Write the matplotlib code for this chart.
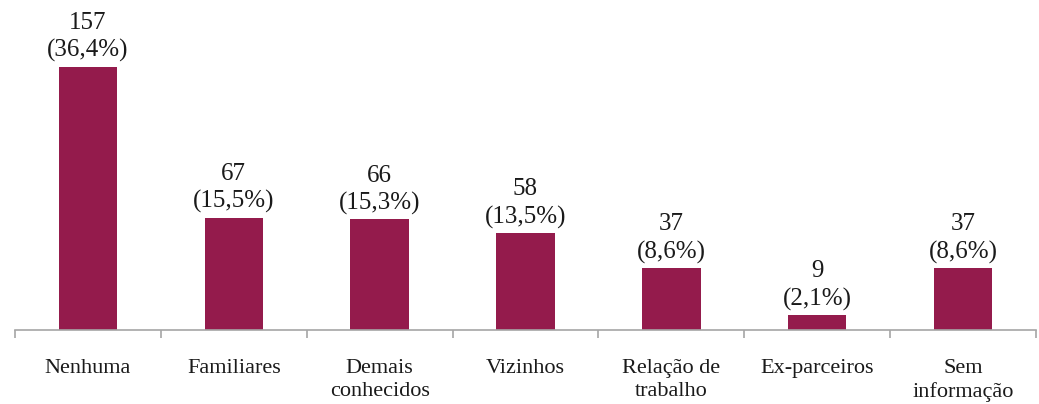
import matplotlib.pyplot as plt
import numpy as np

categorias = ['Nenhuma', 'Familiares', 'Demais\nconhecidos', 'Vizinhos',
              'Relação de\ntrabalho', 'Ex-parceiros', 'Sem\ninformação']
valores = [157, 67, 66, 58, 37, 9, 37]
percentuais = ['36,4%', '15,5%', '15,3%', '13,5%', '8,6%', '2,1%', '8,6%']

plt.rcParams['font.family'] = ['Liberation Serif', 'DejaVu Serif']

fig = plt.figure(figsize=(10.39, 4.04), dpi=100)
ax = fig.add_axes([15 / 1039, 74 / 404, 1021 / 1039, 302 / 404])

x = np.arange(len(categorias))
ax.bar(x, valores, width=0.4, color='#941B4C')

for xi, v, p in zip(x, valores, percentuais):
    ax.annotate(f'{v}\n({p})', (xi, v), xytext=(0, 3), textcoords='offset points',
                ha='center', va='bottom', fontsize=18, color='#1a1a1a',
                linespacing=1.3, annotation_clip=False)

ax.set_xlim(-0.5, len(categorias) - 0.5)
ax.set_ylim(0, 180)
ax.set_xticks(x)
ax.set_xticklabels(categorias, fontsize=16, color='#1a1a1a', linespacing=1.25)
ax.set_xticks(np.arange(-0.5, len(categorias)), minor=True)
ax.tick_params(axis='x', which='major', length=0, pad=21)
ax.tick_params(axis='x', which='minor', length=6, width=1.2, color='#A6A6A6')
ax.set_yticks([])

for s in ['top', 'right', 'left']:
    ax.spines[s].set_visible(False)
ax.spines['bottom'].set_color('#A6A6A6')
ax.spines['bottom'].set_linewidth(1.2)

fig.savefig('out.png', dpi=100)
